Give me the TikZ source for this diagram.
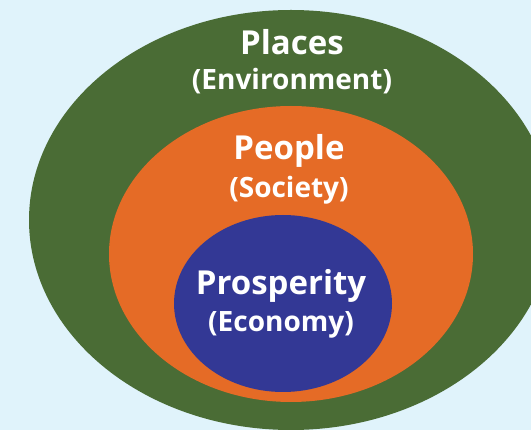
\documentclass[tikz,border=0pt]{standalone}
\usepackage{fontspec}
\setsansfont{Open Sans}
\usetikzlibrary{shapes.geometric}
\definecolor{cbg}{HTML}{E0F3FB}
\definecolor{cgreen}{HTML}{4A6C35}
\definecolor{corange}{HTML}{E56B26}
\definecolor{cblue}{HTML}{333895}
\tikzset{
  every picture/.style={font=\sffamily\bfseries},
  ring/.style={ellipse, fill=#1, draw=none, inner sep=0pt},
  title/.style={text=white, font=\sffamily\bfseries\fontsize{33}{33}\selectfont, inner sep=0pt},
  sub/.style={text=white, font=\sffamily\bfseries\fontsize{28}{28}\selectfont, inner sep=0pt},
}

\begin{document}
\begin{tikzpicture}[x=1pt, y=-1pt]
  \fill[cbg] (0,0) rectangle (531,430);
  \useasboundingbox (0,0) rectangle (531,430);
  \clip (0,0) rectangle (531,430);
  % nested circles
  \node[ring=cgreen, minimum width=524pt, minimum height=420pt] (places) at (291,220) {};
  \node[ring=corange, minimum width=364pt, minimum height=296pt] (people) at (291,254) {};
  \node[ring=cblue, minimum width=218pt, minimum height=177pt] (prosperity) at (283,303.5) {};
  % labels
  \node[title] (t1) at (292,42) {Places};
  \node[sub] (s1) at (292,81) {(Environment)};
  \node[title] (t2) at (289,151) {People};
  \node[sub] (s2) at (289,190) {(Society)};
  \node[title] (t3) at (281,286) {Prosperity};
  \node[sub] (s3) at (281,325) {(Economy)};
\end{tikzpicture}
\end{document}
